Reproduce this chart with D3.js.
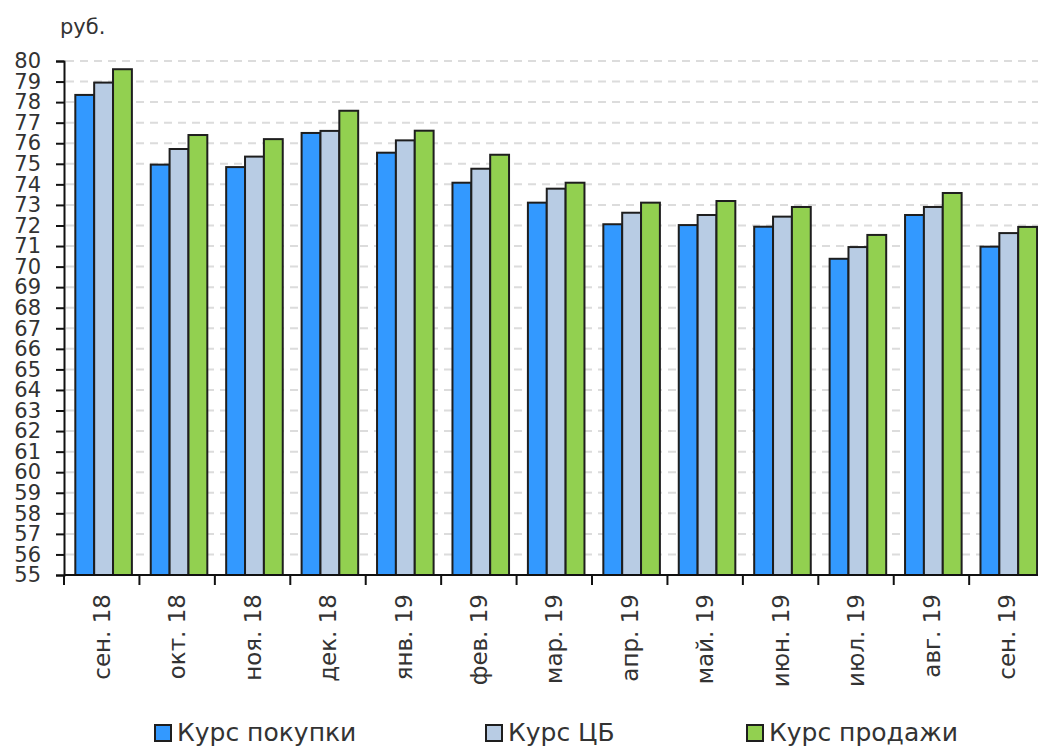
<!DOCTYPE html>
<html>
<head>
<meta charset="utf-8">
<script src="https://cdn.jsdelivr.net/npm/d3@7"></script>
<style>
  body { margin: 0; background: #fff; }
  text { font-family: "DejaVu Sans", sans-serif; fill: #333; }
</style>
</head>
<body>
<svg id="chart" width="1038" height="749"></svg>
<script>
const months = ["сен. 18", "окт. 18", "ноя. 18", "дек. 18", "янв. 19", "фев. 19", "мар. 19",
                "апр. 19", "май. 19", "июн. 19", "июл. 19", "авг. 19", "сен. 19"];
const buyRate  = [78.35, 74.96, 74.84, 76.50, 75.54, 74.08, 73.11, 72.06, 72.02, 71.94, 70.38, 72.51, 70.97];
const cbRate   = [78.95, 75.72, 75.35, 76.60, 76.14, 74.76, 73.79, 72.62, 72.51, 72.43, 70.95, 72.90, 71.63];
const sellRate = [79.60, 76.40, 76.20, 77.58, 76.61, 75.44, 74.08, 73.11, 73.19, 72.90, 71.54, 73.58, 71.93];
const seriesNames = ["Курс покупки", "Курс ЦБ", "Курс продажи"];
const yTicks = d3.range(55, 81);

const colors = ["#3399ff", "#b8cce4", "#92d050"];
const series = [buyRate, cbRate, sellRate];

const svg = d3.select("#chart");
const plotLeft = 64, plotRight = 1044.6, plotTop = 61, plotBottom = 575;

const x0 = d3.scaleBand().domain(months).range([plotLeft, plotRight]).padding(0);
const x1 = d3.scaleBand().domain(d3.range(series.length))
    .range([x0.bandwidth() * 0.15, x0.bandwidth() * 0.9]);
const y = d3.scaleLinear().domain([55, 80]).range([plotBottom, plotTop]);

// dashed gridlines
svg.append("g")
    .selectAll("line")
    .data(yTicks.filter(t => t > 55))
    .join("line")
    .attr("x1", plotLeft + 2).attr("x2", 1038)
    .attr("y1", d => y(d)).attr("y2", d => y(d))
    .attr("stroke", "#dcdcdc")
    .attr("stroke-width", 2)
    .attr("stroke-dasharray", "8,6");

// bars
const groups = svg.append("g")
    .selectAll("g")
    .data(months)
    .join("g")
    .attr("transform", d => `translate(${x0(d)},0)`);

groups.selectAll("rect")
    .data((d, i) => series.map((s, k) => ({ k, v: s[i] })))
    .join("rect")
    .attr("x", d => x1(d.k))
    .attr("width", x1.bandwidth())
    .attr("y", d => y(d.v))
    .attr("height", d => y(55) - y(d.v))
    .attr("fill", d => colors[d.k])
    .attr("stroke", "#1e1e1e")
    .attr("stroke-width", 2);

// y axis
const yAxis = svg.append("g")
    .attr("transform", `translate(${plotLeft},0)`)
    .call(d3.axisLeft(y).tickValues(yTicks).tickSize(8).tickPadding(15).tickFormat(d3.format("d")));
yAxis.select(".domain").attr("stroke", "#111").attr("stroke-width", 2);
yAxis.selectAll(".tick line").attr("stroke", "#111").attr("stroke-width", 2);
yAxis.selectAll(".tick text")
    .style("font-family", "DejaVu Sans")
    .style("font-size", "21px")
    .attr("fill", "#333");

// x axis
const xAxis = svg.append("g").attr("transform", `translate(0,${plotBottom})`);
xAxis.append("line")
    .attr("x1", plotLeft).attr("x2", 1038)
    .attr("stroke", "#111").attr("stroke-width", 2);
xAxis.selectAll(".tk")
    .data(months.map(m => x0(m)).concat([plotRight]))
    .join("line")
    .attr("class", "tk")
    .attr("x1", d => d).attr("x2", d => d)
    .attr("y1", 0).attr("y2", 10)
    .attr("stroke", "#111").attr("stroke-width", 2);
xAxis.selectAll(".lbl")
    .data(months)
    .join("text")
    .attr("class", "lbl")
    .attr("transform", d => `translate(${x0(d) + x0.bandwidth() / 2},19) rotate(-90)`)
    .attr("text-anchor", "end")
    .attr("dy", "0.35em")
    .style("font-size", "23px")
    .text(d => d);

// unit label
svg.append("text")
    .attr("x", 60).attr("y", 34)
    .style("font-size", "21px")
    .text("руб.");

// legend
const legendX = [155, 486, 747];
const legend = svg.append("g")
    .selectAll("g")
    .data(seriesNames)
    .join("g")
    .attr("transform", (d, i) => `translate(${legendX[i]},725)`);
legend.append("rect")
    .attr("width", 16).attr("height", 16)
    .attr("fill", (d, i) => colors[i])
    .attr("stroke", "#1e1e1e").attr("stroke-width", 2);
legend.append("text")
    .attr("x", 22).attr("y", 16)
    .style("font-size", "25px")
    .text(d => d);
</script>
</body>
</html>
